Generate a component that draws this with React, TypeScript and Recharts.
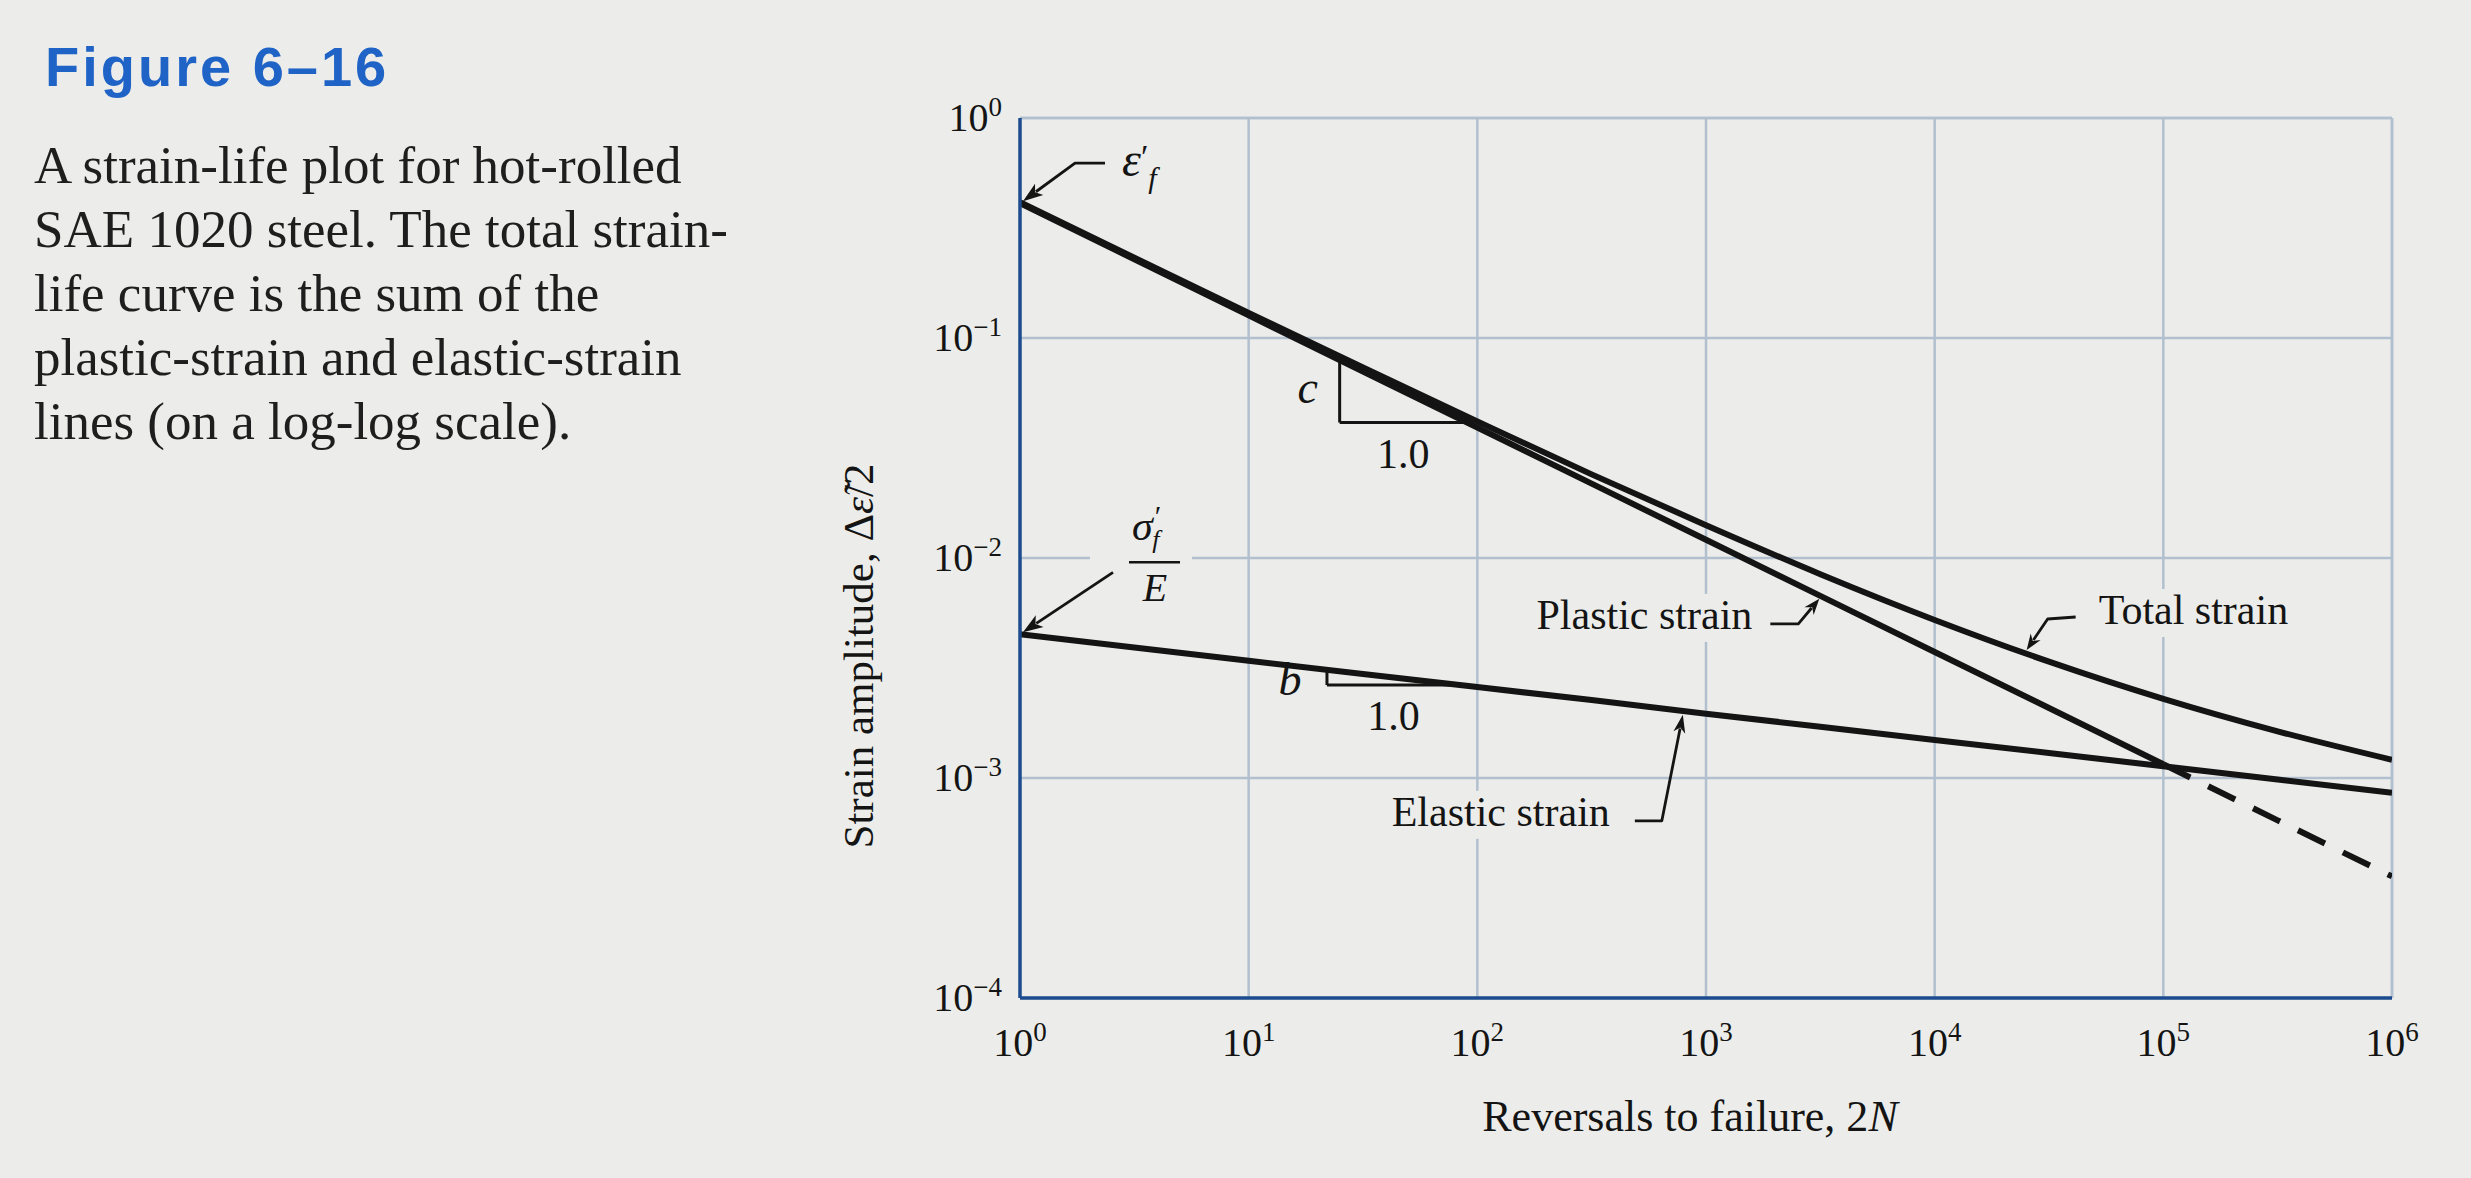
import React from 'react';
import {
  LineChart,
  Line,
  XAxis,
  YAxis,
  CartesianGrid,
  ReferenceLine,
  ReferenceDot,
  Label,
} from 'recharts';

// ---------- data ----------
const REVERSALS = [1, 3.162, 10, 31.62, 100, 316.2, 1000, 3162, 10000, 31620, 100000, 316200, 1000000];
const TOTAL_STRAIN = [0.4145, 0.2319, 0.1301, 0.0734, 0.0418, 0.024, 0.0141, 0.00844, 0.00523, 0.00338, 0.00229, 0.00163, 0.00121];
const ELASTIC_STRAIN = [0.0045, 0.00392, 0.00341, 0.00297, 0.00259, 0.00226, 0.00196, 0.00171, 0.00149, 0.0013, 0.00113, 0.000985, 0.000857];
const PLASTIC_STRAIN = [0.41, 0.228, 0.1267, 0.0704, 0.0392, 0.02177, 0.0121, 0.00673, 0.00374, 0.00208, 0.001155, 0.000642, 0.000357];
const TRANSITION_LIFE = 100000; // plastic line is dashed beyond this

const X_TICKS = [1, 10, 100, 1000, 10000, 100000, 1000000];
const Y_TICKS = [0.0001, 0.001, 0.01, 0.1, 1];

// slope triangles (x pair, y pair) and annotation anchors
const C_TRI_X = [25, 90];
const C_TRI_Y = [0.0794, 0.0413];
const B_TRI_X = [22, 84];
const B_TRI_Y = [0.00311, 0.002645];
const EPS_F = { n: 1, s: 0.41 };
const SIG_F_E = { n: 1, s: 0.0045 };
const PLASTIC_TAG = { n: 3162, s: 0.00673 };
const ELASTIC_TAG = { n: 800, s: 0.00202 };
const TOTAL_TAG = { n: 25000, s: 0.0037 };

const CAPTION_TITLE = 'Figure 6\u201316';
const CAPTION_LINES = [
  'A strain-life plot for hot-rolled',
  'SAE 1020 steel. The total strain-',
  'life curve is the sum of the',
  'plastic-strain and elastic-strain',
  'lines (on a log-log scale).',
];

// ---------- styling ----------
const W = 2471;
const H = 1178;
const PAPER = '#ecedea';
const GRID = '#b1bfce';
const AXIS = '#1d4c8e';
const INK = '#141414';
const SERIF = '"Liberation Serif", "Times New Roman", serif';

const rows = REVERSALS.map((n, i) => ({
  n,
  total: TOTAL_STRAIN[i],
  elastic: ELASTIC_STRAIN[i],
  plastic: n <= TRANSITION_LIFE ? PLASTIC_STRAIN[i] : null,
  plasticExt: n >= TRANSITION_LIFE ? PLASTIC_STRAIN[i] : null,
}));

const expText = (v: number) => {
  const e = Math.round(Math.log10(v));
  return e < 0 ? '\u2212' + String(-e) : String(e);
};

const XTick = (p: any) => (
  <text x={p.x} y={p.y + 56} textAnchor="middle" fontFamily={SERIF} fontSize={40} fill={INK}>
    10
    <tspan dy={-15} fontSize={27}>
      {expText(p.payload.value)}
    </tspan>
  </text>
);

const YTick = (p: any) => (
  <text x={p.x} y={p.y + 13} textAnchor="end" fontFamily={SERIF} fontSize={40} fill={INK}>
    10
    <tspan dy={-15} fontSize={27}>
      {expText(p.payload.value)}
    </tspan>
  </text>
);

const XTitle = (props: any) => {
  const vb = props.viewBox || { x: 0, y: 0, width: 0, height: 0 };
  return (
    <text x={vb.x + vb.width / 2 - 16} y={vb.y + 133} textAnchor="middle" fontFamily={SERIF} fontSize={44} fill={INK}>
      Reversals to failure, 2<tspan fontStyle="italic">N</tspan>
    </text>
  );
};

const YTitle = (props: any) => {
  const vb = props.viewBox || { x: 0, y: 0, width: 0, height: 0 };
  const cx = vb.x - 82;
  const cy = vb.y + vb.height / 2 + 98;
  return (
    <text
      x={cx}
      y={cy}
      transform={`rotate(-90 ${cx} ${cy})`}
      textAnchor="middle"
      dominantBaseline="central"
      fontFamily={SERIF}
      fontSize={43}
      fill={INK}
    >
      Strain amplitude, {'\u0394'}
      <tspan fontStyle="italic">{'\u03b5\u0303'}</tspan>/2
    </text>
  );
};

function Arrow({ pts, head = 20, half = 7, width = 2.8 }: { pts: number[][]; head?: number; half?: number; width?: number }) {
  const n = pts.length;
  const [tx, ty] = pts[n - 1];
  const [px, py] = pts[n - 2];
  const dx = tx - px;
  const dy = ty - py;
  const L = Math.hypot(dx, dy) || 1;
  const ux = dx / L;
  const uy = dy / L;
  const bx = tx - ux * head;
  const by = ty - uy * head;
  const d =
    'M ' +
    pts
      .slice(0, -1)
      .map((q) => `${q[0]} ${q[1]}`)
      .join(' L ') +
    ` L ${bx + ux * 4} ${by + uy * 4}`;
  const poly = `${tx},${ty} ${bx - uy * half},${by + ux * half} ${bx + ux * 5},${by + uy * 5} ${bx + uy * half},${by - ux * half}`;
  return (
    <g>
      <path d={d} fill="none" stroke={INK} strokeWidth={width} strokeLinejoin="round" />
      <polygon points={poly} fill={INK} />
    </g>
  );
}

const txt = { fontFamily: SERIF, fill: INK } as const;

export default function App() {
  const cMidY = Math.sqrt(C_TRI_Y[0] * C_TRI_Y[1]);
  const cMidX = Math.sqrt(C_TRI_X[0] * C_TRI_X[1]);
  const bMidY = Math.sqrt(B_TRI_Y[0] * B_TRI_Y[1]);
  const bMidX = Math.sqrt(B_TRI_X[0] * B_TRI_X[1]);

  return (
    <div style={{ position: 'absolute', left: 0, top: 0, width: W, height: H, background: PAPER, overflow: 'hidden' }}>
      <svg width={860} height={520} style={{ position: 'absolute', left: 0, top: 0 }}>
        <text
          x={45}
          y={86}
          fontFamily='"Liberation Sans", Arial, sans-serif'
          fontWeight="bold"
          fontSize={56}
          letterSpacing={3}
          fill="#2063c6"
        >
          {CAPTION_TITLE}
        </text>
        {CAPTION_LINES.map((line, i) => (
          <text key={i} x={34} y={183 + 64 * i} fontFamily={SERIF} fontSize={53} fill="#1e1e1e">
            {line}
          </text>
        ))}
      </svg>
      <div style={{ position: 'absolute', left: 0, top: 0 }}>
        <LineChart width={W} height={H} data={rows} margin={{ top: 118, right: 79, bottom: 120, left: 940 }}>
          <CartesianGrid stroke={GRID} strokeWidth={2.5} />
          <XAxis
            dataKey="n"
            type="number"
            scale="log"
            domain={[1, 1000000]}
            ticks={X_TICKS}
            interval={0}
            allowDataOverflow
            height={60}
            tickLine={false}
            tickSize={0}
            tick={<XTick />}
            axisLine={{ stroke: AXIS, strokeWidth: 3.5 }}
          >
            <Label content={XTitle} />
          </XAxis>
          <YAxis
            type="number"
            scale="log"
            domain={[0.0001, 1]}
            ticks={Y_TICKS}
            interval={0}
            allowDataOverflow
            width={80}
            tickLine={false}
            tickSize={0}
            tickMargin={18}
            tick={<YTick />}
            axisLine={{ stroke: AXIS, strokeWidth: 3.5 }}
          >
            <Label content={YTitle} />
          </YAxis>
          <ReferenceLine y={1} stroke={GRID} strokeWidth={2.5} />
          <ReferenceLine x={1000000} stroke={GRID} strokeWidth={2.5} />

          <Line dataKey="total" type="monotone" stroke={INK} strokeWidth={6} dot={false} isAnimationActive={false} />
          <Line dataKey="elastic" type="linear" stroke={INK} strokeWidth={6} dot={false} isAnimationActive={false} />
          <Line dataKey="plastic" type="linear" stroke={INK} strokeWidth={6} dot={false} isAnimationActive={false} />
          <Line
            dataKey="plasticExt"
            type="linear"
            stroke={INK}
            strokeWidth={6}
            strokeDasharray="30 20"
            dot={false}
            isAnimationActive={false}
          />

          {/* slope triangle c */}
          <ReferenceLine
            segment={[
              { x: C_TRI_X[0], y: C_TRI_Y[0] },
              { x: C_TRI_X[0], y: C_TRI_Y[1] },
            ]}
            stroke={INK}
            strokeWidth={3}
            ifOverflow="visible"
          />
          <ReferenceLine
            segment={[
              { x: C_TRI_X[0], y: C_TRI_Y[1] },
              { x: C_TRI_X[1], y: C_TRI_Y[1] },
            ]}
            stroke={INK}
            strokeWidth={3}
            ifOverflow="visible"
          />
          {/* slope triangle b */}
          <ReferenceLine
            segment={[
              { x: B_TRI_X[0], y: B_TRI_Y[0] },
              { x: B_TRI_X[0], y: B_TRI_Y[1] },
            ]}
            stroke={INK}
            strokeWidth={3}
            ifOverflow="visible"
          />
          <ReferenceLine
            segment={[
              { x: B_TRI_X[0], y: B_TRI_Y[1] },
              { x: B_TRI_X[1], y: B_TRI_Y[1] },
            ]}
            stroke={INK}
            strokeWidth={3}
            ifOverflow="visible"
          />

          <ReferenceDot
            x={C_TRI_X[0]}
            y={cMidY}
            r={0}
            ifOverflow="visible"
            shape={(p: any) => (
              <text x={p.cx - 32} y={p.cy + 12} textAnchor="middle" fontStyle="italic" fontSize={46} {...txt}>
                c
              </text>
            )}
          />
          <ReferenceDot
            x={cMidX}
            y={C_TRI_Y[1]}
            r={0}
            ifOverflow="visible"
            shape={(p: any) => (
              <text x={p.cx} y={p.cy + 46} textAnchor="middle" fontSize={42} {...txt}>
                1.0
              </text>
            )}
          />
          <ReferenceDot
            x={B_TRI_X[0]}
            y={bMidY}
            r={0}
            ifOverflow="visible"
            shape={(p: any) => (
              <text x={p.cx - 37} y={p.cy + 18} textAnchor="middle" fontStyle="italic" fontSize={46} {...txt}>
                b
              </text>
            )}
          />
          <ReferenceDot
            x={bMidX}
            y={B_TRI_Y[1]}
            r={0}
            ifOverflow="visible"
            shape={(p: any) => (
              <text x={p.cx} y={p.cy + 45} textAnchor="middle" fontSize={42} {...txt}>
                1.0
              </text>
            )}
          />

          {/* epsilon'_f */}
          <ReferenceDot
            x={EPS_F.n}
            y={EPS_F.s}
            r={0}
            ifOverflow="visible"
            shape={(p: any) => (
              <g>
                <Arrow pts={[[p.cx + 85, p.cy - 40], [p.cx + 55, p.cy - 40], [p.cx + 3, p.cy - 2]]} />
                <text x={p.cx + 102} y={p.cy - 27} fontStyle="italic" fontSize={48} {...txt}>
                  {'\u03b5'}
                  <tspan fontStyle="normal" fontSize={34} dy={-8}>
                    {'\u2032'}
                  </tspan>
                  <tspan fontSize={30} dy={20}>
                    f
                  </tspan>
                </text>
              </g>
            )}
          />

          {/* sigma'_f / E */}
          <ReferenceDot
            x={SIG_F_E.n}
            y={SIG_F_E.s}
            r={0}
            ifOverflow="visible"
            shape={(p: any) => (
              <g>
                <rect x={p.cx + 70} y={p.cy - 128} width={102} height={100} fill={PAPER} />
                <Arrow pts={[[p.cx + 93, p.cy - 62], [p.cx + 3, p.cy - 2]]} />
                <text x={p.cx + 112} y={p.cy - 94} fontStyle="italic" fontSize={42} {...txt}>
                  {'\u03c3'}
                  <tspan fontStyle="normal" fontSize={30} dx={2} dy={-14}>
                    {'\u2032'}
                  </tspan>
                  <tspan fontSize={26} dx={-9} dy={22}>
                    f
                  </tspan>
                </text>
                <line x1={p.cx + 109} x2={p.cx + 160} y1={p.cy - 72} y2={p.cy - 72} stroke={INK} strokeWidth={2.5} />
                <text x={p.cx + 135} y={p.cy - 33} textAnchor="middle" fontStyle="italic" fontSize={40} {...txt}>
                  E
                </text>
              </g>
            )}
          />

          {/* Plastic strain */}
          <ReferenceDot
            x={PLASTIC_TAG.n}
            y={PLASTIC_TAG.s}
            r={0}
            ifOverflow="visible"
            shape={(p: any) => (
              <g>
                <rect x={p.cx - 292} y={p.cy - 2} width={226} height={48} fill={PAPER} />
                <text x={p.cx - 68} y={p.cy + 33} textAnchor="end" fontSize={42} {...txt}>
                  Plastic strain
                </text>
                <Arrow pts={[[p.cx - 50, p.cy + 28], [p.cx - 22, p.cy + 28], [p.cx - 1, p.cy + 3]]} head={16} half={6} />
              </g>
            )}
          />

          {/* Elastic strain */}
          <ReferenceDot
            x={ELASTIC_TAG.n}
            y={ELASTIC_TAG.s}
            r={0}
            ifOverflow="visible"
            shape={(p: any) => (
              <g>
                <rect x={p.cx - 300} y={p.cy + 80} width={228} height={48} fill={PAPER} />
                <text x={p.cx - 74} y={p.cy + 115} textAnchor="end" fontSize={42} {...txt}>
                  Elastic strain
                </text>
                <Arrow pts={[[p.cx - 49, p.cy + 110], [p.cx - 22, p.cy + 110], [p.cx - 1, p.cy + 4]]} head={18} half={6} />
              </g>
            )}
          />

          {/* Total strain */}
          <ReferenceDot
            x={TOTAL_TAG.n}
            y={TOTAL_TAG.s}
            r={0}
            ifOverflow="visible"
            shape={(p: any) => (
              <g>
                <rect x={p.cx + 68} y={p.cy - 64} width={212} height={48} fill={PAPER} />
                <text x={p.cx + 73} y={p.cy - 29} fontSize={42} {...txt}>
                  Total strain
                </text>
                <Arrow pts={[[p.cx + 50, p.cy - 36], [p.cx + 22, p.cy - 34], [p.cx + 1, p.cy - 3]]} head={16} half={6} />
              </g>
            )}
          />
        </LineChart>
      </div>
    </div>
  );
}
